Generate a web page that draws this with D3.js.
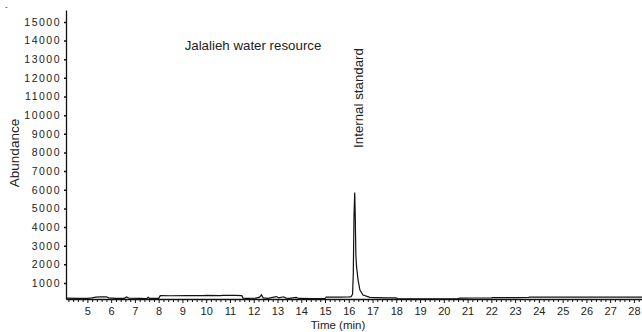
<!DOCTYPE html>
<html>
<head>
<meta charset="utf-8">
<title>Jalalieh water resource</title>
<script src="https://cdn.jsdelivr.net/npm/d3@7"></script>
<style>
  body { margin: 0; background: #fff; }
  svg text { font-family: "Liberation Sans", Arial, sans-serif; fill: #222; }
</style>
</head>
<body>
<div id="chart"></div>
<script>
// retention time (min) and abundance
var times = [4.1, 4.6, 5.0, 5.2, 5.35, 5.6, 5.8, 5.9, 6.2, 6.55, 6.65, 6.75, 7.2, 7.5, 7.56, 7.62, 8.0,
             8.06, 8.1, 8.5, 9.2, 9.9, 10.0, 10.6, 10.7, 11.2, 11.5, 11.55, 11.7, 12.1, 12.25, 12.32, 12.4,
             12.6, 12.95, 13.05, 13.25, 13.37, 13.5, 13.78, 13.9, 14.5, 15.0, 15.05, 15.6, 16.0, 16.1,
             16.16, 16.19, 16.22, 16.25, 16.27, 16.30, 16.33, 16.39, 16.47, 16.6, 16.89, 17.2, 17.55,
             18.0, 18.05, 19.0, 20.0, 20.6, 20.65, 21.3, 22.0, 22.05, 23.0, 23.55, 23.6, 25.0, 26.5, 28.34];
var abundance = [190, 175, 170, 200, 240, 255, 260, 200, 170, 175, 250, 180, 170, 165, 230, 170, 175,
                 310, 320, 315, 320, 318, 330, 325, 335, 330, 320, 190, 175, 185, 240, 360, 200,
                 175, 270, 200, 260, 190, 170, 230, 170, 165, 170, 240, 245, 250, 260,
                 400, 1500, 4600, 5850, 4750, 2450, 1850, 1160, 620, 355, 230, 215, 205,
                 200, 150, 150, 150, 150, 190, 195, 195, 215, 218, 220, 238, 240, 240, 240];

var majorTicks = d3.range(5, 29);
var yTicks = d3.range(1000, 16000, 1000);

var W = 642, H = 332;
var svg = d3.select("#chart").append("svg")
    .attr("width", W)
    .attr("height", H);

var x = d3.scaleLinear().domain([4.1, 28.34]).range([66, 642]);
var y = d3.scaleLinear().domain([140, 15640]).range([299, 10]);

// x axis: minor ticks every 0.2 min
var minorTicks = d3.range(4.2, 28.3, 0.2).filter(function (t) {
    return Math.abs(t - Math.round(t)) > 0.01;
});
svg.append("g")
    .attr("transform", "translate(0,299)")
    .call(d3.axisBottom(x).tickValues(minorTicks).tickSize(3).tickFormat(""))
    .call(function (g) { g.select(".domain").remove(); g.selectAll("line").attr("stroke", "#111"); });

var xAxis = svg.append("g")
    .attr("transform", "translate(0,299)")
    .call(d3.axisBottom(x).tickValues(majorTicks).tickSize(4).tickSizeOuter(0).tickPadding(4)
        .tickFormat(d3.format("d")));
xAxis.select(".domain").attr("stroke", "#111").attr("stroke-width", 1.3);
xAxis.selectAll("line").attr("stroke", "#111");
xAxis.selectAll("text").style("font-size", "11px");

var yAxis = svg.append("g")
    .attr("transform", "translate(66,0)")
    .call(d3.axisLeft(y).tickValues(yTicks).tickSize(2).tickSizeOuter(0).tickPadding(3)
        .tickFormat(d3.format("d")));
yAxis.select(".domain").attr("stroke", "#111").attr("stroke-width", 1.3);
yAxis.selectAll("line").attr("stroke", "#111").attr("stroke-width", 1.5);
yAxis.selectAll("text").style("font-size", "10.5px").style("letter-spacing", "1.5px");

// trace
var line = d3.line()
    .x(function (d, i) { return x(times[i]); })
    .y(function (d) { return y(d); });
svg.append("path")
    .datum(abundance)
    .attr("d", line)
    .attr("fill", "none")
    .attr("stroke", "#111")
    .attr("stroke-width", 1.2);

// labels
svg.append("text")
    .attr("x", 253).attr("y", 50)
    .attr("text-anchor", "middle")
    .style("font-size", "13.3px")
    .text("Jalalieh water resource");

svg.append("text")
    .attr("transform", "translate(363,98) rotate(-90)")
    .attr("text-anchor", "middle")
    .style("font-size", "13.3px")
    .text("Internal standard");

svg.append("text")
    .attr("transform", "translate(19,153) rotate(-90)")
    .attr("text-anchor", "middle")
    .style("font-size", "13.5px")
    .text("Abundance");

svg.append("text")
    .attr("x", 338).attr("y", 329)
    .attr("text-anchor", "middle")
    .style("font-size", "11.5px")
    .text("Time (min)");

svg.append("text")
    .attr("x", 5).attr("y", 9)
    .style("font-size", "8px")
    .text("-");
</script>
</body>
</html>
